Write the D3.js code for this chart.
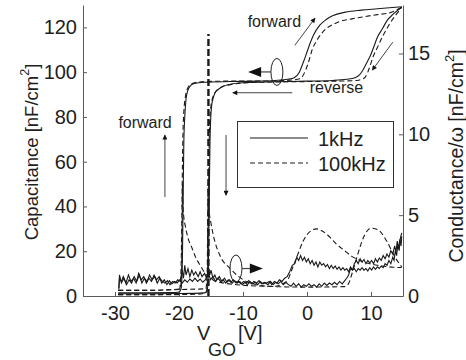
<!DOCTYPE html>
<html>
<head>
<meta charset="utf-8">
<script src="https://cdn.jsdelivr.net/npm/d3@7"></script>
<style>
  body { margin: 0; background: #fff; }
  text { font-family: 'Liberation Sans', Arial, sans-serif; fill: #1e1e1e; }
</style>
</head>
<body>
<div id="chart"></div>
<script>
// axis ticks
const xTicks = [-30, -20, -10, 0, 10];
const capTicks = [0, 20, 40, 60, 80, 100, 120];
const condTicks = [0, 5, 10, 15];

// capacitance [nF/cm2] vs V_GO [V]  ->  [V, C]
const capFwd1k = [[-29.5,1.4],[-25,1.4],[-21,1.5],[-20,1.8],[-19.7,3],[-19.55,8],[-19.45,20],[-19.35,45],[-19.25,68],[-19.1,80],[-18.9,88],[-18.6,92],[-18.2,94],[-17.6,95],[-16,95.5],[-12,95.8],[-8,96],[-5,96.3],[-3,96.8],[-2,97.5],[-1.2,100],[-0.5,105],[0,109],[0.5,113],[1,116.5],[2,121],[3,123.5],[4,125.2],[6,126.8],[8.5,127.7],[11,128.3],[14.8,129.2]];
const capFwd100k = [[-29.5,0.6],[-25,0.6],[-21,0.7],[-20.2,1],[-19.9,3],[-19.7,10],[-19.6,25],[-19.5,50],[-19.4,70],[-19.25,82],[-19.0,89],[-18.7,92.5],[-18.2,94.5],[-17.5,95.3],[-16,95.8],[-12,96],[-8,96],[-4,96.2],[-1.5,96.8],[-0.9,97.5],[-0.2,101],[0.4,106],[0.8,110],[1.5,114],[2.2,117],[2.9,119.2],[4,121.2],[5,122.5],[7,123.8],[8.75,124.7],[11,125.7],[13,126.6],[14.8,129]];
const capRev1k = [[-29.5,1.0],[-25,1.0],[-20,1.1],[-16,1.4],[-15.6,2.5],[-15.45,8],[-15.35,25],[-15.25,50],[-15.15,70],[-15.05,79],[-14.9,85],[-14.7,88],[-14.4,90.6],[-14,92],[-13.3,93.4],[-12,94.6],[-10,95.3],[-5,95.7],[0,96],[4,96.3],[6.2,96.8],[7.5,97.5],[8.2,98.8],[8.75,101],[9.4,104.5],[10,108],[10.4,111],[11,115.6],[11.8,119.5],[12.5,123],[13.5,126],[14.8,129]];
const capRev100k = [[-29.5,0.6],[-22,0.6],[-17,0.8],[-15.8,1.5],[-15.6,4],[-15.5,15],[-15.4,40],[-15.3,65],[-15.2,78],[-15.0,85],[-14.7,89],[-14.2,91.5],[-13.4,93.3],[-12,94.4],[-10,95.2],[-5,95.6],[0,95.8],[5,96],[7.8,96.3],[8.5,96.8],[9.1,97.8],[9.7,101.5],[10.3,106.7],[11,111],[11.75,115.6],[12.4,119],[13,122],[14,126],[14.8,129]];

// conductance/omega [nF/cm2] vs V_GO [V]  ->  [V, G]
const condFwd1k = [[-29.4,0.5],[-29.3,1.3],[-29.0,0.8],[-28.6,1.1],[-28.2,0.7],[-27.8,1.0],[-27.4,0.8],[-27.0,1.2],[-26.6,0.9],[-26.2,1.3],[-25.8,0.8],[-25.4,1.1],[-25.0,0.9],[-24.6,1.3],[-24.2,1.0],[-23.8,1.2],[-23.4,0.8],[-23.0,1.1],[-22.6,0.9],[-22.2,0.8],[-21.8,0.95],[-21.4,0.7],[-21.0,0.9],[-20.6,0.8],[-20.2,1.0],[-19.8,0.9],[-19.5,1.6],[-19.3,1.1],[-19.1,1.9],[-18.9,1.3],[-18.6,1.7],[-18.3,1.2],[-18.0,1.6],[-17.7,1.3],[-17.4,1.5],[-17.0,1.2],[-16.7,1.5],[-16.4,1.2],[-16.0,1.4],[-15.7,1.1],[-15.4,1.5],[-15.1,1.0],[-14.7,1.2],[-14.3,0.9],[-13.9,1.1],[-13.5,0.9],[-13.1,1.0],[-12.7,0.8],[-12.3,1.0],[-11.9,0.85],[-11.5,1.0],[-11.1,0.8],[-10.7,0.9],[-10.3,0.75],[-9.9,0.9],[-9.5,0.8],[-9.1,0.95],[-8.7,0.75],[-8.3,0.9],[-7.9,0.8],[-7.5,0.95],[-7.1,0.75],[-6.7,0.85],[-6.3,0.8],[-5.9,0.9],[-5.5,0.7],[-5.1,0.9],[-4.7,0.8],[-4.3,1.0],[-3.9,0.9],[-3.5,1.1],[-3.1,1.2],[-2.7,1.5],[-2.3,1.9],[-1.9,2.0],[-1.6,2.4],[-1.3,2.2],[-1.0,2.5],[-0.7,2.2],[-0.4,2.4],[-0.1,2.1],[0.2,2.3],[0.5,2.0],[0.8,2.2],[1.1,1.9],[1.4,2.1],[1.7,1.8],[2.0,2.1],[2.3,1.9],[2.6,2.0],[2.9,1.8],[3.2,1.95],[3.5,1.7],[3.8,1.9],[4.1,1.7],[4.4,1.85],[4.7,1.65],[5.0,1.8],[5.3,1.6],[5.6,1.75],[5.9,1.6],[6.2,1.7],[6.5,1.5],[6.8,1.8],[7.1,1.6],[7.4,1.7],[7.7,1.5],[8.0,1.7],[8.3,1.6],[8.6,1.75],[8.9,1.6],[9.2,1.7],[9.5,1.55],[9.8,1.75],[10.1,1.6],[10.4,1.8],[10.7,1.65],[11.0,1.8],[11.3,1.7],[11.6,1.85],[11.9,1.75],[12.2,2.0],[12.5,1.9],[12.8,2.2],[13.1,2.0],[13.4,2.4],[13.6,2.2],[13.8,2.8],[14.0,2.5],[14.2,3.2],[14.4,2.8],[14.6,3.6],[14.8,3.9]];
const condRev1k = [[-29.4,0.4],[-29.3,1.1],[-29.0,0.9],[-28.7,1.2],[-28.3,0.8],[-27.9,1.3],[-27.5,0.9],[-27.1,1.1],[-26.7,0.8],[-26.3,1.4],[-25.9,1.0],[-25.5,1.2],[-25.1,0.8],[-24.7,1.1],[-24.3,0.9],[-23.9,1.3],[-23.5,1.0],[-23.1,1.2],[-22.7,0.8],[-22.3,1.0],[-21.9,0.7],[-21.5,0.95],[-21.1,0.75],[-20.7,0.9],[-20.3,0.8],[-19.9,1.0],[-19.5,0.8],[-19.1,1.0],[-18.7,0.85],[-18.3,1.05],[-17.9,0.9],[-17.5,1.1],[-17.1,0.9],[-16.7,1.05],[-16.3,0.85],[-15.9,1.0],[-15.6,1.2],[-15.4,1.8],[-15.2,1.3],[-15.0,1.6],[-14.7,1.1],[-14.4,1.3],[-14.1,1.0],[-13.7,1.2],[-13.3,0.9],[-12.9,1.1],[-12.5,0.85],[-12.1,1.0],[-11.7,0.8],[-11.3,0.95],[-10.9,0.8],[-10.5,0.9],[-10.1,0.7],[-9.7,0.85],[-9.3,0.7],[-8.9,0.9],[-8.5,0.75],[-8.1,0.85],[-7.7,0.7],[-7.3,0.9],[-6.9,0.75],[-6.5,0.8],[-6.1,0.7],[-5.7,0.9],[-5.3,0.7],[-4.9,0.85],[-4.5,0.75],[-4.1,0.9],[-3.7,0.7],[-3.3,0.85],[-2.9,0.7],[-2.5,0.6],[-2.1,0.8],[-1.7,0.6],[-1.3,0.75],[-0.9,0.55],[-0.5,0.7],[-0.1,0.6],[0.3,0.75],[0.7,0.6],[1.1,0.7],[1.5,0.55],[1.9,0.75],[2.3,0.6],[2.7,0.8],[3.1,0.65],[3.5,0.8],[3.9,0.7],[4.3,0.85],[4.7,0.7],[5.1,0.9],[5.5,0.75],[5.9,0.95],[6.2,1.1],[6.5,1.3],[6.8,1.7],[7.1,1.6],[7.4,2.0],[7.7,2.2],[8.0,2.0],[8.3,2.3],[8.6,2.1],[8.9,2.25],[9.2,2.0],[9.5,2.2],[9.8,2.05],[10.1,2.2],[10.4,2.0],[10.7,2.3],[11.0,2.1],[11.3,2.35],[11.6,2.2],[11.9,2.5],[12.2,2.3],[12.5,2.6],[12.8,2.4],[13.1,2.8],[13.4,2.6],[13.7,3.1],[13.9,2.7],[14.1,3.4],[14.3,2.9],[14.5,3.5],[14.7,3.1],[14.8,3.7]];
const condFwd100k = [[-29.5,0.35],[-25,0.35],[-21,0.4],[-19.8,0.45],[-19.6,1.5],[-19.5,4.5],[-19.45,7],[-19.38,5.6],[-19.25,4.9],[-19,4.3],[-18.6,3.6],[-18,3.0],[-17.4,2.4],[-16.7,1.9],[-15.9,1.4],[-15.2,1.15],[-14.5,0.95],[-13,0.8],[-11,0.7],[-8,0.62],[-5,0.6],[-3.8,0.75],[-3.0,1.0],[-2.3,1.7],[-1.6,2.4],[-0.6,3.4],[0.5,4.0],[1.5,4.15],[2.2,4.05],[3.0,3.85],[3.8,3.55],[4.6,3.2],[5.4,2.95],[6.2,2.7],[7,2.45],[7.8,2.28],[8.8,2.1],[9.8,2.0],[11,1.9],[12.45,1.82],[13.5,1.78],[14.8,1.76]];
const condRev100k = [[-29.5,0.35],[-25,0.35],[-20,0.4],[-15.8,0.45],[-15.6,1.5],[-15.5,5],[-15.42,7],[-15.3,5.3],[-15.0,4.5],[-14.6,3.7],[-13.6,2.5],[-12,1.7],[-10.5,1.15],[-9.5,0.9],[-8,0.7],[-6,0.6],[-3,0.56],[0,0.55],[3,0.56],[5.8,0.58],[6.4,0.7],[6.8,1.1],[7.2,1.6],[7.8,2.4],[8.8,3.6],[10.0,4.2],[11.1,4.1],[12.45,3.4],[13.75,2.4],[14.8,1.8]];

// dashed marker at the reverse switching voltage
const markerV = -15.4;
const markerTop = 117;

// annotations, in data units (V, C)
const notes = [
  { text: 'forward', v: -25.3, c: 75 },
  { text: 'forward', v: -5.1, c: 120 },
  { text: 'reverse', v: 4.6, c: 90.6 },
];
const arrows = [
  { from: [-22.2, 44.2], to: [-22.2, 71.9] },
  { from: [-12.65, 71.9], to: [-12.65, 45] },
  { from: [-1.9, 112], to: [1.25, 124.1] },
  { from: [13.4, 113.4], to: [10.2, 100.9] },
  { from: [-2.3, 90.8], to: [-11.6, 90.8] },
];

const width = 466;
const height = 360;
const margin = { top: 5, right: 63, bottom: 64, left: 83 };
const plotW = width - margin.left - margin.right;
const plotH = height - margin.top - margin.bottom;

const svg = d3
  .select('#chart')
  .append('svg')
  .attr('width', width)
  .attr('height', height);

const g = svg
  .append('g')
  .attr('transform', 'translate(' + margin.left + ',' + margin.top + ')');

const x = d3.scaleLinear().domain([-35, 15]).range([0, plotW]);
const yC = d3.scaleLinear().domain([0, 130]).range([plotH, 0]);
const yG = d3.scaleLinear().domain([0, 18]).range([plotH, 0]);

const axisColor = '#5a5a5a';

function styleAxis(sel) {
  sel.select('.domain').attr('stroke', axisColor);
  sel.selectAll('.tick line').attr('stroke', axisColor);
  sel.selectAll('.tick text').style('font-size', '20px').attr('fill', '#1e1e1e');
}

g.append('g')
  .attr('transform', `translate(0, ${plotH})`)
  .call(d3.axisBottom(x).tickValues(xTicks).tickSizeInner(-4).tickSizeOuter(0).tickPadding(10).tickFormat(d3.format('d')))
  .call(styleAxis);

g.append('g')
  .call(d3.axisLeft(yC).tickValues(capTicks).tickSizeInner(-4).tickSizeOuter(0).tickPadding(6))
  .call(styleAxis);

g.append('g')
  .attr('transform', `translate(${plotW}, 0)`)
  .call(d3.axisRight(yG).tickValues(condTicks).tickSizeInner(-4).tickSizeOuter(0).tickPadding(5))
  .call(styleAxis);

// hyphen instead of unicode minus, like the original
g.selectAll('.tick text').text(function () {
  return this.textContent.replace('\u2212', '-');
});

const ink = '#1a1a1a';
const smoothCap = d3.line().x((d) => x(d[0])).y((d) => yC(d[1])).curve(d3.curveMonotoneX);
const smoothCond = d3.line().x((d) => x(d[0])).y((d) => yG(d[1])).curve(d3.curveMonotoneX);
const rawCond = d3.line().x((d) => x(d[0])).y((d) => yG(d[1]));

const series = [
  { data: capFwd1k, line: smoothCap, dash: null },
  { data: capRev1k, line: smoothCap, dash: null },
  { data: capFwd100k, line: smoothCap, dash: '5,3' },
  { data: capRev100k, line: smoothCap, dash: '5,3' },
  { data: condFwd1k, line: rawCond, dash: null },
  { data: condRev1k, line: rawCond, dash: null },
  { data: condFwd100k, line: smoothCond, dash: '5,3' },
  { data: condRev100k, line: smoothCond, dash: '5,3' },
];

series.forEach((s) => {
  g.append('path')
    .attr('d', s.line(s.data))
    .attr('fill', 'none')
    .attr('stroke', ink)
    .attr('stroke-width', 1.1)
    .attr('stroke-dasharray', s.dash);
});

g.append('line')
  .attr('x1', x(markerV))
  .attr('x2', x(markerV))
  .attr('y1', yC(0))
  .attr('y2', yC(markerTop))
  .attr('stroke', ink)
  .attr('stroke-width', 2.4)
  .attr('stroke-dasharray', '7,3');

// arrowheads
svg.append('defs')
  .append('marker')
  .attr('id', 'tip')
  .attr('viewBox', '0 0 10 10')
  .attr('refX', 9)
  .attr('refY', 5)
  .attr('markerWidth', 7)
  .attr('markerHeight', 5)
  .attr('markerUnits', 'userSpaceOnUse')
  .attr('orient', 'auto')
  .append('path')
  .attr('d', 'M0,0L10,5L0,10Z')
  .attr('fill', '#111');

arrows.forEach((a) => {
  g.append('line')
    .attr('x1', x(a.from[0]))
    .attr('y1', yC(a.from[1]))
    .attr('x2', x(a.to[0]))
    .attr('y2', yC(a.to[1]))
    .attr('stroke', '#444')
    .attr('stroke-width', 1)
    .attr('marker-end', 'url(#tip)');
});

g.selectAll('.note')
  .data(notes)
  .join('text')
  .attr('class', 'note')
  .attr('x', (d) => x(d.v))
  .attr('y', (d) => yC(d.c))
  .attr('text-anchor', 'middle')
  .style('font-size', '16px')
  .text((d) => d.text);

// axis indicators: ellipse round the curves with a filled arrow to the axis
function indicator(cx, cy, tipX) {
  const dir = tipX < cx ? -1 : 1;
  g.append('ellipse')
    .attr('cx', cx)
    .attr('cy', cy)
    .attr('rx', 6)
    .attr('ry', 13.5)
    .attr('fill', 'none')
    .attr('stroke', '#222')
    .attr('stroke-width', 1);
  g.append('line')
    .attr('x1', cx + dir * 6)
    .attr('x2', tipX - dir * 12)
    .attr('y1', cy)
    .attr('y2', cy)
    .attr('stroke', '#444')
    .attr('stroke-width', 1.2);
  g.append('path')
    .attr('d', `M${tipX},${cy}L${tipX - dir * 13},${cy - 5}L${tipX - dir * 13},${cy + 5}Z`)
    .attr('fill', '#111');
}
indicator(x(-4.7), yC(100.1), x(-9.2));
indicator(x(-11.1), yG(1.7), x(-6.9));

// legend
const legend = svg.append('g');
legend
  .append('rect')
  .attr('x', 237.5)
  .attr('y', 121.5)
  .attr('width', 156)
  .attr('height', 66)
  .attr('fill', '#fff')
  .attr('stroke', '#333')
  .attr('stroke-width', 1);
const legendItems = [
  { label: '1kHz', dash: null, y: 138 },
  { label: '100kHz', dash: '5,3', y: 163 },
];
legendItems.forEach((d) => {
  legend
    .append('line')
    .attr('x1', 250)
    .attr('x2', 308)
    .attr('y1', d.y)
    .attr('y2', d.y)
    .attr('stroke', ink)
    .attr('stroke-width', 1.1)
    .attr('stroke-dasharray', d.dash);
  legend
    .append('text')
    .attr('x', 318)
    .attr('y', d.y + 8)
    .style('font-size', '20px')
    .text(d.label);
});

// axis titles
const leftTitle = svg
  .append('text')
  .attr('transform', 'translate(38,152) rotate(-90)')
  .attr('text-anchor', 'middle')
  .style('font-size', '18.5px');
leftTitle.append('tspan').text('Capacitance [nF/cm');
leftTitle.append('tspan').attr('dy', -9).style('font-size', '12.5px').text('2');
leftTitle.append('tspan').attr('dy', 9).text(']');

const rightTitle = svg
  .append('text')
  .attr('transform', 'translate(463,156) rotate(-90)')
  .attr('text-anchor', 'middle')
  .style('font-size', '19.5px');
rightTitle.append('tspan').text('Conductance/\u03c9 [nF/cm');
rightTitle.append('tspan').attr('dy', -9).style('font-size', '13px').text('2');
rightTitle.append('tspan').attr('dy', 9).text(']');

const xTitle = svg.append('text').attr('y', 340).style('font-size', '20px');
xTitle.append('tspan').attr('x', 197).text('V');
xTitle.append('tspan').attr('x', 208).attr('dy', 16).style('font-size', '18px').text('GO');
xTitle.append('tspan').attr('x', 238).attr('dy', -16).text('[V]');
</script>
</body>
</html>
